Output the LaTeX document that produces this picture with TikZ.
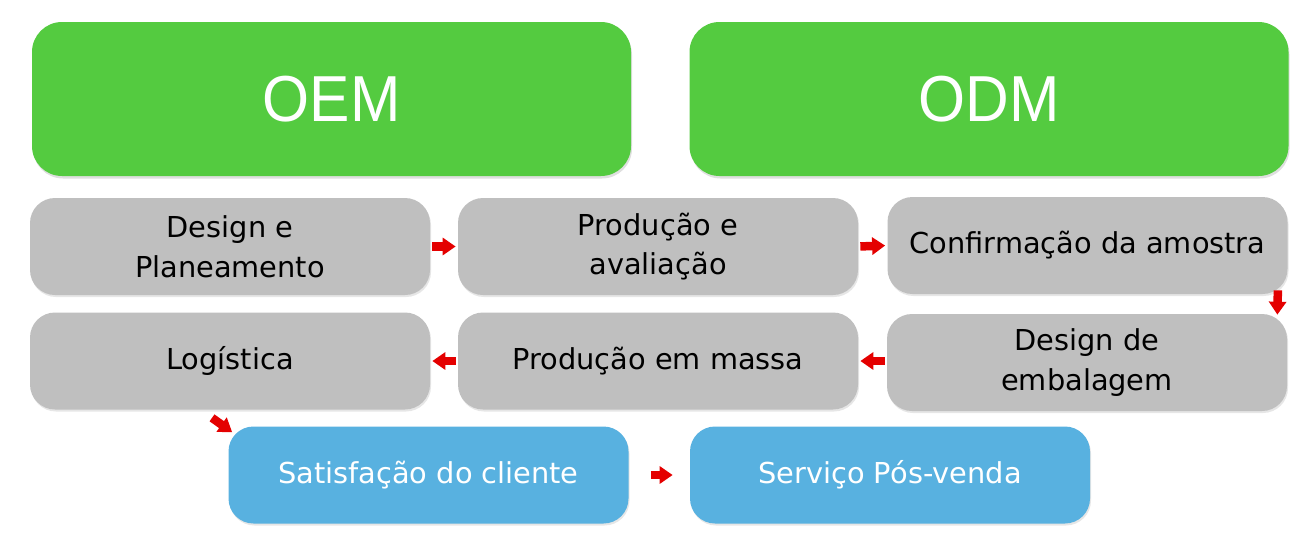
\documentclass[tikz,border=0pt]{standalone}
\usepackage{fontspec}
\setmainfont{DejaVu Sans}
\newfontfamily\headfont[FakeStretch=0.93]{Liberation Sans}
\usepackage{tikz}
\usetikzlibrary{arrows.meta, positioning, calc, shadows}
\definecolor{cGreen}{RGB}{84,203,64}
\definecolor{cGrey}{RGB}{191,191,191}
\definecolor{cBlue}{RGB}{88,177,224}
\definecolor{cRed}{RGB}{228,0,0}
\tikzset{
	headbox/.style ={rectangle, rounded corners=0.6cm, minimum width=11.98cm, minimum height=3.08cm, text centered, fill=cGreen, text=white, font=\headfont\fontsize{37}{40}\selectfont, drop shadow={shadow xshift=0.02cm, shadow yshift=-0.05cm, opacity=0.25}},
	stepbox/.style ={rectangle, rounded corners=0.5cm, minimum width=8cm, minimum height=1.94cm, text centered, align=center, fill=cGrey, text=black, font=\fontsize{16.4}{22.6}\selectfont, drop shadow={shadow xshift=0.02cm, shadow yshift=-0.04cm, opacity=0.2}},
	endbox/.style  ={stepbox, fill=cBlue, text=white},
	flowarr/.style ={-{Triangle[length=0.26cm, width=0.34cm]}, line width=0.17cm, draw=cRed, shorten <=0.04cm, shorten >=0.04cm},
}
\begin{document}
\begin{tikzpicture}
	\useasboundingbox (0,0) rectangle (26.1,-11.02);
	% top headers
	\node[headbox] (oem) at (6.63,-1.98) {OEM};
	\node[headbox] (odm) at (19.78,-1.98) {ODM};
	% process steps
	\node[stepbox] (plan) at (4.6,-4.93)   {Design e\\Planeamento};
	\node[stepbox] (aval) at (13.16,-4.93) {Produção e\\avaliação};
	\node[stepbox] (conf) at (21.75,-4.91) {Confirmação da amostra};
	\node[stepbox] (emb)  at (21.74,-7.25) {Design de\\embalagem};
	\node[stepbox] (mass) at (13.16,-7.22) {Produção em massa};
	\node[stepbox] (log)  at (4.6,-7.22)   {Logística};
	\node[endbox]  (sat)  at (8.57,-9.5)   {Satisfação do cliente};
	\node[endbox]  (serv) at (17.8,-9.5)   {Serviço Pós-venda};
	% arrows
	\draw[flowarr] (plan.east) -- (aval.west);
	\draw[flowarr] (aval.east) -- (conf.west);
	\draw[flowarr, shorten <=0pt, shorten >=0pt] ([xshift=-0.2cm,yshift=0.08cm]conf.south east) -- ([xshift=-0.2cm,yshift=-0.02cm]emb.north east);
	\draw[flowarr] (emb.west |- mass.east) -- (mass.east);
	\draw[flowarr] (mass.west) -- (log.east);
	\draw[flowarr, shorten <=0pt, shorten >=0pt] ([xshift=-0.36cm,yshift=-0.16cm]log.south) -- ([xshift=0.08cm,yshift=-0.12cm]sat.north west);
	\draw[flowarr, shorten <=0.44cm, shorten >=0.34cm] (sat.east) -- (serv.west);
\end{tikzpicture}
\end{document}
